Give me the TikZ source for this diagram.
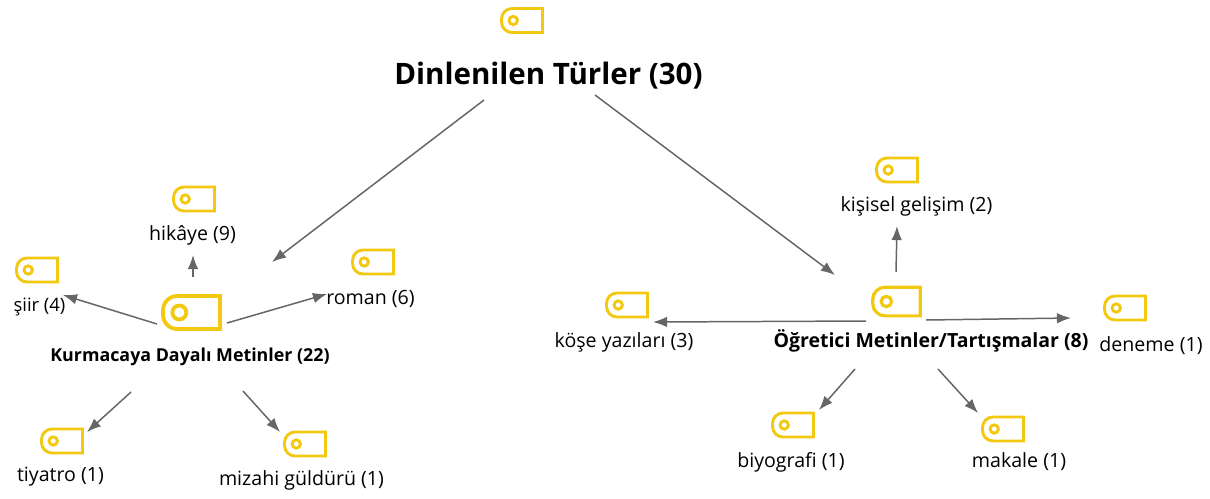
\documentclass[tikz,border=0pt]{standalone}
\usepackage{fontspec}
\setmainfont{Open Sans}
\usetikzlibrary{arrows.meta}

\definecolor{tagyellow}{HTML}{F2C811}
\definecolor{flowgray}{HTML}{666666}

\tikzset{
  flow/.style={draw=flowgray, line width=.85pt, -{Latex[length=8pt,width=6pt]}},
  leaf/.style={font=\fontsize{11.15pt}{13pt}\selectfont, text=black, inner sep=0pt},
  branch/.style={font=\fontsize{10.15pt}{12pt}\selectfont\bfseries, text=black, inner sep=0pt},
  bigbranch/.style={font=\fontsize{11.1pt}{13pt}\selectfont\bfseries, text=black, inner sep=0pt},
  title/.style={font=\fontsize{16.8pt}{20pt}\selectfont\bfseries, text=black, inner sep=0pt},
  % genislik/yukseklik/daire/kalem, piksel cinsinden
  tagicon/.style args={#1/#2/#3/#4}{minimum width=#1*.5669pt, minimum height=#2*.5669pt, inner sep=0pt,
    path picture={
      \def\inset{#4*.2835pt}
      \draw[tagyellow, line width=#4*.5669pt]
        ([shift={(-\inset,-\inset)}]path picture bounding box.north east)
        [rounded corners=#2*.22pt] -- ([shift={(\inset,-\inset)}]path picture bounding box.north west)
        -- ([shift={(\inset,\inset)}]path picture bounding box.south west)
        [sharp corners] -- ([shift={(-\inset,\inset)}]path picture bounding box.south east) -- cycle;
      \draw[tagyellow, line width=#4*.5669pt]
        ([xshift=#1*.17pt]path picture bounding box.west) circle (#3*.5669pt);
    }},
  smalltag/.style={tagicon=44/27/4.2/2.9},
  midtag/.style={tagicon=51/32/5.2/3.2},
  bigtag/.style={tagicon=61/37/7/3.8},
}
\begin{document}
\begin{tikzpicture}[x=.02cm,y=-.02cm]
\useasboundingbox (0,0) rectangle (1210,498);

% simgeler
\node[smalltag] (rootIcon) at (522,20.5) {};
\node[bigtag] (fictionIcon) at (191.5,312.5) {};
\node[midtag] (teachIcon) at (896.5,301.5) {};
\node[smalltag] (storyIcon) at (194,199) {};
\node[smalltag] (poemIcon) at (37,270) {};
\node[smalltag] (novelIcon) at (373,262) {};
\node[smalltag] (theatreIcon) at (62,441) {};
\node[smalltag] (humourIcon) at (305,444) {};
\node[smalltag] (columnIcon) at (627,305) {};
\node[smalltag] (growthIcon) at (897,170) {};
\node[smalltag] (essayIcon) at (1125,308) {};
\node[smalltag] (bioIcon) at (793,425) {};
\node[smalltag] (articleIcon) at (1003,429) {};

% etiketler
\node[title] (root) at (548.5,76) {Dinlenilen Türler (30)};
\node[branch] (fiction) at (190,356.5) {Kurmacaya Dayalı Metinler (22)};
\node[bigbranch] (teach) at (931,340.5) {Öğretici Metinler/Tartışmalar (8)};
\node[leaf] (story) at (192.5,235) {hikâye (9)};
\node[leaf, font=\fontsize{10.5pt}{12pt}\selectfont] (poem) at (39.5,307) {şiir (4)};
\node[leaf] (novel) at (370.5,299) {roman (6)};
\node[leaf] (theatre) at (60.5,477) {tiyatro (1)};
\node[leaf] (humour) at (301.5,480) {mizahi güldürü (1)};
\node[leaf] (column) at (624,342) {köşe yazıları (3)};
\node[leaf] (growth) at (916.5,206) {kişisel gelişim (2)};
\node[leaf] (essay) at (1151,346) {deneme (1)};
\node[leaf] (bio) at (791,462) {biyografi (1)};
\node[leaf] (article) at (1019,462) {makale (1)};

% oklar
\draw[flow] ([shift={(-64.5,24)}]root.center) -- ([shift={(80.5,-50.5)}]fictionIcon.center);
\draw[flow] ([shift={(46.5,19)}]root.center) -- ([shift={(-61.5,-26.5)}]teachIcon.center);

\draw[flow] ([shift={(1.5,-35.5)}]fictionIcon.center) -- ([shift={(.5,20)}]story.center);
\draw[flow] ([shift={(-34.5,11.5)}]fictionIcon.center) -- ([shift={(23.5,-12)}]poem.center);
\draw[flow] ([shift={(35.5,10.5)}]fictionIcon.center) -- ([shift={(-43.5,-5)}]novel.center);
\draw[flow] ([shift={(-59,35.5)}]fiction.center) -- ([shift={(25,-9)}]theatreIcon.center);
\draw[flow] ([shift={(53,34.5)}]fiction.center) -- ([shift={(-25,-12)}]humourIcon.center);

\draw[flow] ([shift={(-.5,-29.5)}]teachIcon.center) -- ([shift={(-19.5,20)}]growth.center);
\draw[flow] ([shift={(-30.5,19.5)}]teachIcon.center) -- ([shift={(29,-20)}]column.center);
\draw[flow] ([shift={(29.5,18.5)}]teachIcon.center) -- ([shift={(-80,-28)}]essay.center);
\draw[flow] ([shift={(-76,28.5)}]teach.center) -- ([shift={(26,-15)}]bioIcon.center);
\draw[flow] ([shift={(7,28.5)}]teach.center) -- ([shift={(-25,-16)}]articleIcon.center);
\end{tikzpicture}
\end{document}
